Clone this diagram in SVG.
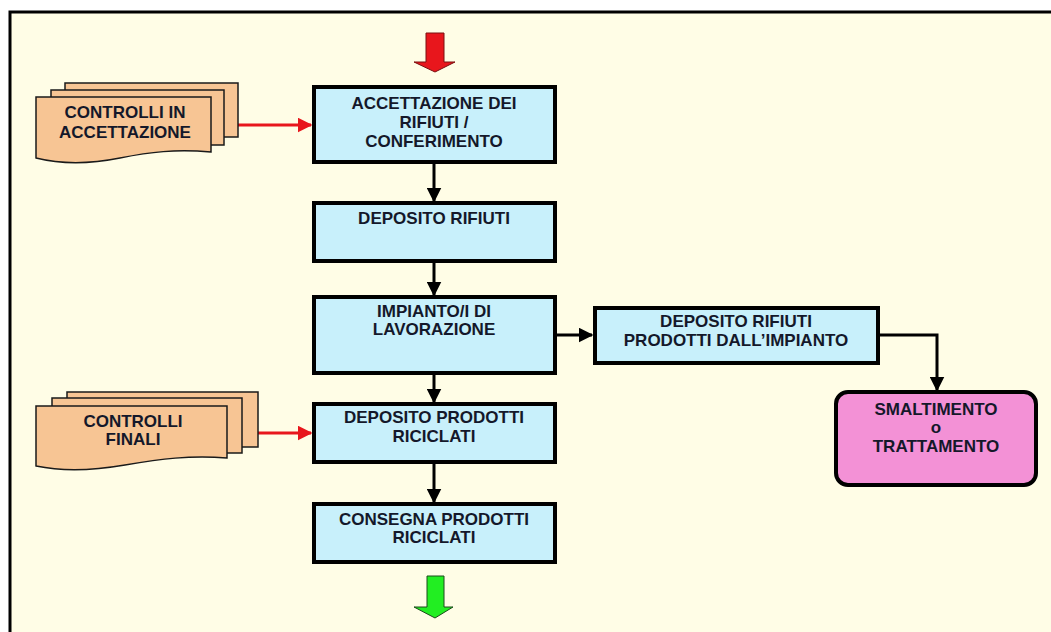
<svg xmlns="http://www.w3.org/2000/svg" width="1051" height="632" viewBox="0 0 1051 632">
<defs>
<style>
.box{fill:#C8F0FB;stroke:#000;stroke-width:4}
.doc{fill:#F7C594;stroke:#1a1a1a;stroke-width:1.5}
.pink{fill:#F391D6;stroke:#000;stroke-width:4}
.t{font-family:"Liberation Sans",Arial,sans-serif;font-weight:bold;font-size:17px;fill:#14182a;text-anchor:middle}
.con{fill:none;stroke:#000;stroke-width:3}
.red{fill:none;stroke:#E8161C;stroke-width:3}
</style>
<marker id="ah" viewBox="0 0 10 10" refX="9" refY="5" markerWidth="5" markerHeight="5" orient="auto" markerUnits="strokeWidth">
<path d="M0,0 L10,5 L0,10 Z" fill="#000"/>
</marker>
<marker id="ahr" viewBox="0 0 10 10" refX="9" refY="5" markerWidth="5" markerHeight="5" orient="auto" markerUnits="strokeWidth">
<path d="M0,0 L10,5 L0,10 Z" fill="#E8161C"/>
</marker>
</defs>
<rect x="0" y="0" width="1051" height="632" fill="#fff"/>
<rect x="10" y="12" width="1060" height="640" fill="#FFFDE6" stroke="#000" stroke-width="3"/>

<g id="connectors">
<path class="con" d="M434,162 V201" marker-end="url(#ah)"/>
<path class="con" d="M434,262 V295" marker-end="url(#ah)"/>
<path class="con" d="M434,374 V402" marker-end="url(#ah)"/>
<path class="con" d="M434,463 V502" marker-end="url(#ah)"/>
<path class="con" d="M556,335 H592" marker-end="url(#ah)"/>
<path class="con" d="M878,335 H937 V390" marker-end="url(#ah)"/>
<path class="red" d="M238,125 H311" marker-end="url(#ahr)"/>
<path class="red" d="M258,433 H311" marker-end="url(#ahr)"/>
</g>

<g id="input-arrow">
<path d="M426,33 H444 V62 H455 L435,72 L414,62 H426 Z" fill="#E8161C" stroke="#7a1010" stroke-width="1"/>
</g>
<g id="output-arrow">
<path d="M427,576 H444 V607 H453 L435,618 L414,607 H427 Z" fill="#22EE22" stroke="#1a4a1a" stroke-width="1"/>
</g>

<g id="controlli-accettazione">
<rect class="doc" x="65" y="83" width="173" height="54"/>
<rect class="doc" x="51" y="90" width="173" height="55"/>
<path class="doc" d="M36,97 H211 V152 C175,149 150,152 120,158 C90,164 60,164 36,158 Z"/>
<text class="t" x="125" y="118">CONTROLLI IN</text>
<text class="t" x="125" y="138">ACCETTAZIONE</text>
</g>

<g id="controlli-finali">
<rect class="doc" x="67" y="392" width="191" height="55"/>
<rect class="doc" x="52" y="398" width="190" height="55"/>
<path class="doc" d="M36,406 H227 V458 C190,455 160,459 125,465 C90,471 60,471 36,466 Z"/>
<text class="t" x="133" y="427">CONTROLLI</text>
<text class="t" x="133" y="445">FINALI</text>
</g>

<g id="accettazione">
<rect class="box" x="314" y="87" width="241" height="75"/>
<text class="t" x="434" y="109">ACCETTAZIONE DEI</text>
<text class="t" x="434" y="128">RIFIUTI /</text>
<text class="t" x="434" y="147">CONFERIMENTO</text>
</g>

<g id="deposito-rifiuti">
<rect class="box" x="314" y="203" width="241" height="58"/>
<text class="t" x="434" y="224">DEPOSITO RIFIUTI</text>
</g>

<g id="impianto">
<rect class="box" x="314" y="297" width="241" height="76"/>
<text class="t" x="434" y="317">IMPIANTO/I DI</text>
<text class="t" x="434" y="335">LAVORAZIONE</text>
</g>

<g id="deposito-prodotti">
<rect class="box" x="314" y="404" width="241" height="58"/>
<text class="t" x="434" y="423">DEPOSITO PRODOTTI</text>
<text class="t" x="434" y="442">RICICLATI</text>
</g>

<g id="consegna">
<rect class="box" x="314" y="504" width="241" height="58"/>
<text class="t" x="434" y="525">CONSEGNA PRODOTTI</text>
<text class="t" x="434" y="543">RICICLATI</text>
</g>

<g id="deposito-impianto">
<rect class="box" x="595" y="308" width="283" height="55"/>
<text class="t" x="736" y="327">DEPOSITO RIFIUTI</text>
<text class="t" x="736" y="346">PRODOTTI DALL’IMPIANTO</text>
</g>

<g id="smaltimento">
<rect class="pink" x="836" y="392" width="200" height="93" rx="12" ry="12"/>
<text class="t" x="936" y="415">SMALTIMENTO</text>
<text class="t" x="936" y="433">o</text>
<text class="t" x="936" y="452">TRATTAMENTO</text>
</g>
</svg>
